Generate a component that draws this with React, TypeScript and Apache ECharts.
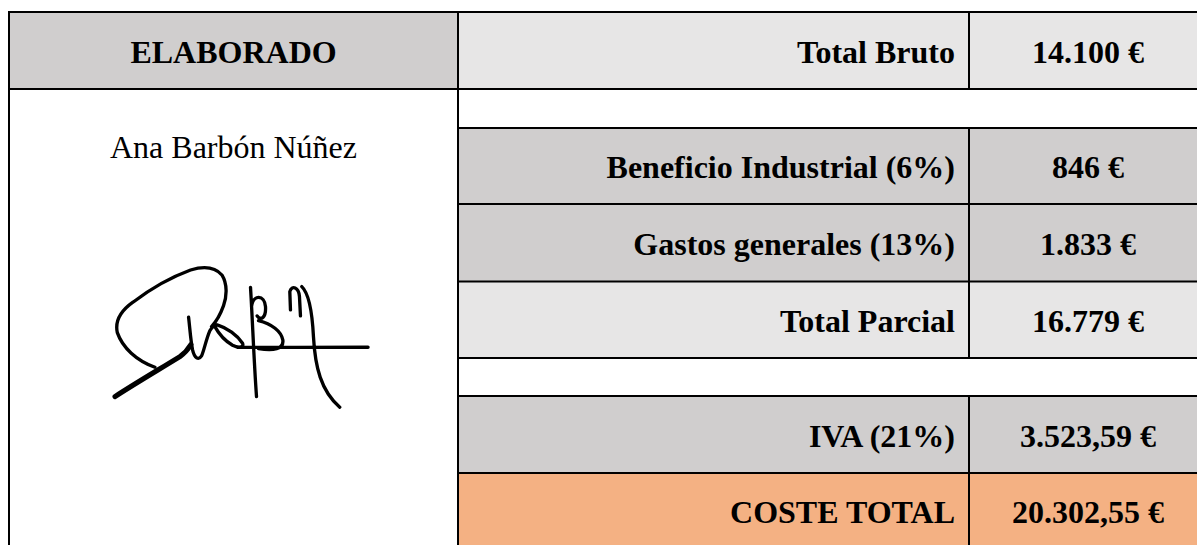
import React, { useEffect, useRef } from "react";
import * as echarts from "echarts";

// ---- Data ----
const headerLeft = "ELABORADO";
const authorName = "Ana Barbón Núñez";
const rowLabels = [
  "Total Bruto",
  "",
  "Beneficio Industrial (6%)",
  "Gastos generales (13%)",
  "Total Parcial",
  "",
  "IVA (21%)",
  "COSTE TOTAL",
];
const rowValues = [
  "14.100 €",
  "",
  "846 €",
  "1.833 €",
  "16.779 €",
  "",
  "3.523,59 €",
  "20.302,55 €",
];
const rowKinds = ["light", "blank", "dark", "dark", "light", "blank", "dark", "total"];

// ---- Styling / layout ----
const COLORS: Record<string, string> = {
  light: "#E7E6E6",
  dark: "#D0CECE",
  total: "#F4B183",
  blank: "#FFFFFF",
};
const ROW_EDGES = [12, 89, 128, 204, 281.5, 358, 396, 473, 549];
const X_LEFT = 9;
const X_MID = 458;
const X_VAL = 969;
const X_RIGHT = 1207;
const FONT = "'Liberation Serif', 'Times New Roman', serif";
const FS = 32;

const SIG_MAIN =
  "M165,322 C110,302 68,264 52,218 C44,182 66,150 100,126 C150,88 212,52 272,30 C312,18 346,22 366,45 C383,72 381,110 371,137 C361,165 348,186 335,200 " +
  "M266,172 C270,205 272,240 278,270 C284,296 296,302 305,288 C313,270 318,240 330,212 C338,200 345,194 352,195 C382,204 412,226 428,250 C434,264 414,264 398,256 C374,242 356,220 345,200 " +
  "M452,82 C458,180 462,300 470,410 " +
  "M455,140 C460,102 494,104 497,140 C499,172 484,184 472,168 " +
  "M476,182 C516,192 544,214 549,240 C553,268 520,274 476,266 " +
  "M412,262 C540,263 680,262 805,262 " +
  "M572,150 L570,95 C576,74 597,82 599,110 L602,168 " +
  "M606,80 C627,100 637,150 641,230 C646,322 664,394 720,442";
const SIG_DIAG = "M45,410 C110,368 175,330 240,290 C256,279 266,266 273,254";

export default function App() {
  const ref = useRef<HTMLDivElement>(null);

  useEffect(() => {
    document.body.style.margin = "0";
    if (!ref.current) return;
    echarts.graphic.registerShape("sigMain", echarts.graphic.extendPath(SIG_MAIN, {}));
    echarts.graphic.registerShape("sigDiag", echarts.graphic.extendPath(SIG_DIAG, {}));
    const chart = echarts.init(ref.current, undefined, { renderer: "svg" });

    const els: any[] = [];
    // fills
    els.push({
      type: "rect",
      shape: { x: X_LEFT, y: ROW_EDGES[0], width: X_MID - X_LEFT, height: ROW_EDGES[1] - ROW_EDGES[0] },
      style: { fill: COLORS.dark },
      z: 1,
    });
    rowKinds.forEach((k, i) => {
      els.push({
        type: "rect",
        shape: { x: X_MID, y: ROW_EDGES[i], width: X_RIGHT - X_MID, height: ROW_EDGES[i + 1] - ROW_EDGES[i] },
        style: { fill: COLORS[k] },
        z: 1,
      });
    });
    // lines
    const line = (x1: number, y1: number, x2: number, y2: number) => ({
      type: "line",
      shape: { x1, y1, x2, y2 },
      style: { stroke: "#000", lineWidth: 2 },
      z: 5,
    });
    els.push(line(X_LEFT, ROW_EDGES[0] - 1, X_LEFT, 560));
    els.push(line(X_MID, ROW_EDGES[0], X_MID, 560));
    els.push(line(X_LEFT - 1, ROW_EDGES[0], X_RIGHT, ROW_EDGES[0]));
    els.push(line(X_LEFT, ROW_EDGES[1], X_RIGHT, ROW_EDGES[1]));
    for (let i = 2; i < ROW_EDGES.length - 1; i++) {
      els.push(line(X_MID, ROW_EDGES[i], X_RIGHT, ROW_EDGES[i]));
    }
    rowKinds.forEach((k, i) => {
      if (k !== "blank") els.push(line(X_VAL, ROW_EDGES[i], X_VAL, ROW_EDGES[i + 1]));
    });
    // texts
    const text = (t: string, x: number, y: number, align: string, bold: boolean) => ({
      type: "text",
      x,
      y,
      z: 10,
      style: {
        text: t,
        fill: "#000",
        fontFamily: FONT,
        fontSize: FS,
        fontWeight: bold ? "bold" : "normal",
        textAlign: align,
        textVerticalAlign: "middle",
      },
    });
    els.push(text(headerLeft, (X_LEFT + X_MID) / 2, (ROW_EDGES[0] + ROW_EDGES[1]) / 2 + 1, "center", true));
    els.push(text(authorName, (X_LEFT + X_MID) / 2, 146.5, "center", false));
    rowLabels.forEach((lab, i) => {
      const cy = i === rowLabels.length - 1 ? 512 : (ROW_EDGES[i] + ROW_EDGES[i + 1]) / 2 + 1;
      if (lab) els.push(text(lab, X_VAL - 14, cy, "right", true));
      if (rowValues[i]) els.push(text(rowValues[i], 1088, cy, "center", true));
    });
    // signature
    els.push({
      type: "sigMain",
      x: 100,
      y: 260,
      scaleX: 1 / 3,
      scaleY: 1 / 3,
      z: 8,
      style: { fill: "none", stroke: "#000", lineWidth: 10, lineCap: "round", lineJoin: "round" },
    });
    els.push({
      type: "sigDiag",
      x: 100,
      y: 260,
      scaleX: 1 / 3,
      scaleY: 1 / 3,
      z: 8,
      style: { fill: "none", stroke: "#000", lineWidth: 15, lineCap: "round", lineJoin: "round" },
    });

    chart.setOption({
      animation: false,
      backgroundColor: "#FFFFFF",
      graphic: { elements: els },
    });
    return () => chart.dispose();
  }, []);

  return <div ref={ref} style={{ width: 1197, height: 545 }} />;
}
